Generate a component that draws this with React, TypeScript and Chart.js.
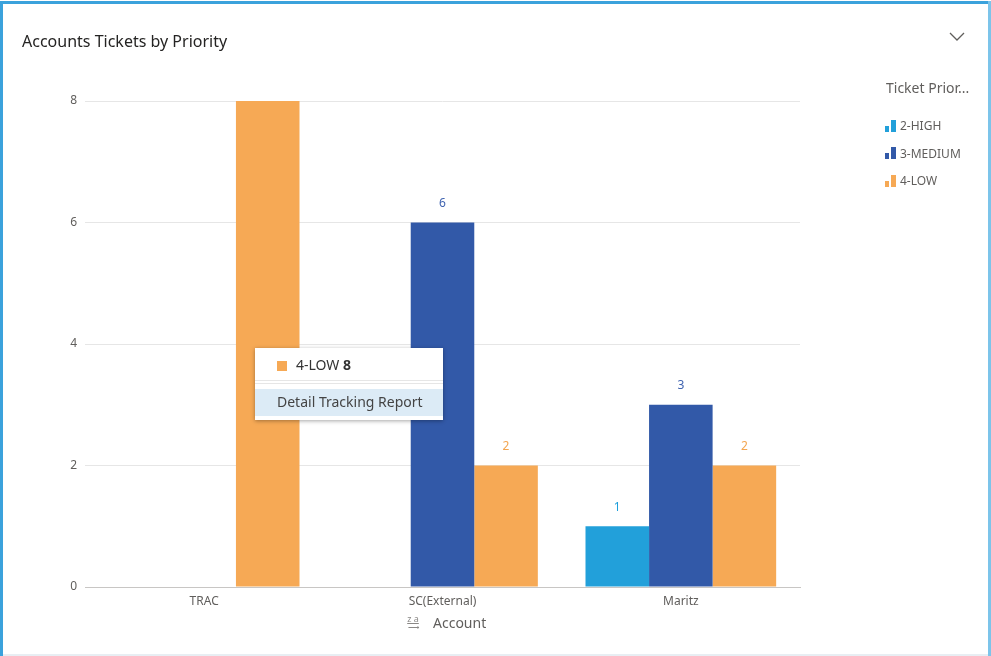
import React, { useEffect, useRef } from "react";
import { Chart, registerables } from "chart.js";

Chart.register(...registerables);

const categories = ["TRAC", "SC(External)", "Maritz"];
const seriesNames = ["2-HIGH", "3-MEDIUM", "4-LOW"];
const highValues: (number | null)[] = [null, null, 1];
const mediumValues: (number | null)[] = [null, 6, 3];
const lowValues: (number | null)[] = [8, 2, 2];
const seriesColors = ["#22A0DA", "#3259A8", "#F6A955"];
const labelColors = ["#1E9FDB", "#3F63B0", "#F3A54F"];
const yTicks = [0, 2, 4, 6, 8];

const FONT = "'Noto Sans', 'Open Sans', sans-serif";

const valueLabels = {
  id: "valueLabels",
  afterDatasetsDraw(chart: any) {
    const ctx = chart.ctx;
    const area = chart.chartArea;
    ctx.save();
    ctx.font = `12px ${FONT}`;
    ctx.textAlign = "center";
    ctx.textBaseline = "middle";
    chart.data.datasets.forEach((ds: any, di: number) => {
      const meta = chart.getDatasetMeta(di);
      meta.data.forEach((el: any, i: number) => {
        const v = ds.data[i];
        if (v === null || v === undefined) return;
        const y = el.y - 19;
        if (y < area.top) return;
        ctx.fillStyle = labelColors[di];
        ctx.fillText(String(v), el.x, y);
      });
    });
    ctx.restore();
  },
};

function LegendIcon({ color }: { color: string }) {
  return (
    <span style={{ position: "relative", display: "inline-block", width: 12, height: 12, marginRight: 3, verticalAlign: "middle" }}>
      <span style={{ position: "absolute", left: 0, bottom: 0, width: 4, height: 6, background: color }} />
      <span style={{ position: "absolute", left: 6, bottom: 0, width: 5, height: 12, background: color }} />
    </span>
  );
}

export default function App() {
  const canvasRef = useRef<HTMLCanvasElement | null>(null);

  useEffect(() => {
    document.body.style.margin = "0";
    const canvas = canvasRef.current;
    if (!canvas) return;
    const chart = new Chart(canvas, {
      type: "bar",
      data: {
        labels: categories,
        datasets: [
          { label: seriesNames[0], data: highValues, backgroundColor: seriesColors[0] },
          { label: seriesNames[1], data: mediumValues, backgroundColor: seriesColors[1] },
          { label: seriesNames[2], data: lowValues, backgroundColor: seriesColors[2] },
        ],
      },
      options: {
        animation: false,
        responsive: false,
        maintainAspectRatio: false,
        layout: { padding: { left: 40, right: 191, top: 101, bottom: 39 } },
        datasets: { bar: { barPercentage: 1, categoryPercentage: 0.8 } },
        plugins: {
          legend: { display: false },
          tooltip: { enabled: false },
        },
        scales: {
          x: {
            grid: { display: false, drawTicks: false },
            border: { display: true, color: "#C8C6C4", width: 1 },
            ticks: { color: "#605E5C", font: { family: FONT, size: 12 }, padding: 7 },
            afterFit: (s: any) => { s.height = 30; },
          },
          y: {
            min: 0,
            max: 8,
            afterBuildTicks: (s: any) => { s.ticks = yTicks.map((v) => ({ value: v })); },
            grid: { color: "#E6E6E6", drawTicks: false },
            border: { display: false },
            ticks: { color: "#605E5C", font: { family: FONT, size: 12 }, padding: 8 },
            afterFit: (s: any) => { s.width = 45; },
          },
        },
      },
      plugins: [valueLabels],
    } as any);
    return () => chart.destroy();
  }, []);

  return (
    <div style={{ position: "absolute", left: 0, top: 0, width: 991, height: 656, background: "#fff", fontFamily: FONT, overflow: "hidden" }}>
      <canvas ref={canvasRef} width={991} height={656} style={{ position: "absolute", left: 0, top: 0, width: 991, height: 656 }} />
      {/* frame */}
      <div style={{ position: "absolute", left: 0, top: 1, width: 991, height: 3, background: "#3BA2DC" }} />
      <div style={{ position: "absolute", left: 0, top: 1, width: 3, height: 655, background: "#3BA2DC" }} />
      <div style={{ position: "absolute", left: 988, top: 1, width: 3, height: 655, background: "#7CC4EA" }} />
      <div style={{ position: "absolute", left: 3, top: 654, width: 985, height: 2, background: "#E8EEF3" }} />
      {/* title */}
      <div style={{ position: "absolute", left: 22, top: 30, fontSize: 16, color: "#252423", whiteSpace: "nowrap" }}>Accounts Tickets by Priority</div>
      {/* chevron */}
      <svg style={{ position: "absolute", left: 948, top: 30 }} width="20" height="14">
        <polyline points="2,3 9,10 16,3" fill="none" stroke="#605E5C" strokeWidth="1.3" />
      </svg>
      {/* legend */}
      <div style={{ position: "absolute", left: 886, top: 78, fontSize: 14, color: "#605E5C", whiteSpace: "nowrap" }}>Ticket Prior...</div>
      {seriesNames.map((n, i) => (
        <div key={n} style={{ position: "absolute", left: 885, top: 116 + i * 27.5, fontSize: 12, color: "#605E5C", whiteSpace: "nowrap", lineHeight: "18px" }}>
          <LegendIcon color={seriesColors[i]} />
          <span style={{ verticalAlign: "middle" }}>{n}</span>
        </div>
      ))}
      {/* x axis title */}
      <div style={{ position: "absolute", left: 405, top: 613, fontSize: 14, color: "#605E5C", whiteSpace: "nowrap", display: "flex", alignItems: "center" }}>
        <span style={{ fontSize: 9, lineHeight: "8px", display: "inline-block", width: 16, textAlign: "center", color: "#8A8886" }}>
          <span style={{ display: "block", textDecoration: "underline" }}>z a</span>
          <span style={{ display: "block", fontSize: 8 }}>⟶</span>
        </span>
        <span style={{ marginLeft: 12 }}>Account</span>
      </div>
      {/* static tooltip */}
      <div style={{ position: "absolute", left: 255, top: 348, width: 188, height: 72, background: "#fff", boxShadow: "0 1px 4px rgba(0,0,0,0.35)" }}>
        <div style={{ position: "absolute", left: 22, top: 13, width: 10, height: 10, background: seriesColors[2] }} />
        <div style={{ position: "absolute", left: 41, top: 7, fontSize: 14, color: "#333", whiteSpace: "nowrap" }}>
          4-LOW <b>8</b>
        </div>
        <div style={{ position: "absolute", left: 0, top: 32, width: 188, height: 1, background: "#E6E6E6" }} />
        <div style={{ position: "absolute", left: 0, top: 35, width: 188, height: 1, background: "#E6E6E6" }} />
        <div style={{ position: "absolute", left: 0, top: 41, width: 188, height: 27, background: "#DCEBF6" }} />
        <div style={{ position: "absolute", left: 22, top: 44, fontSize: 14, color: "#444", whiteSpace: "nowrap" }}>Detail Tracking Report</div>
      </div>
    </div>
  );
}
